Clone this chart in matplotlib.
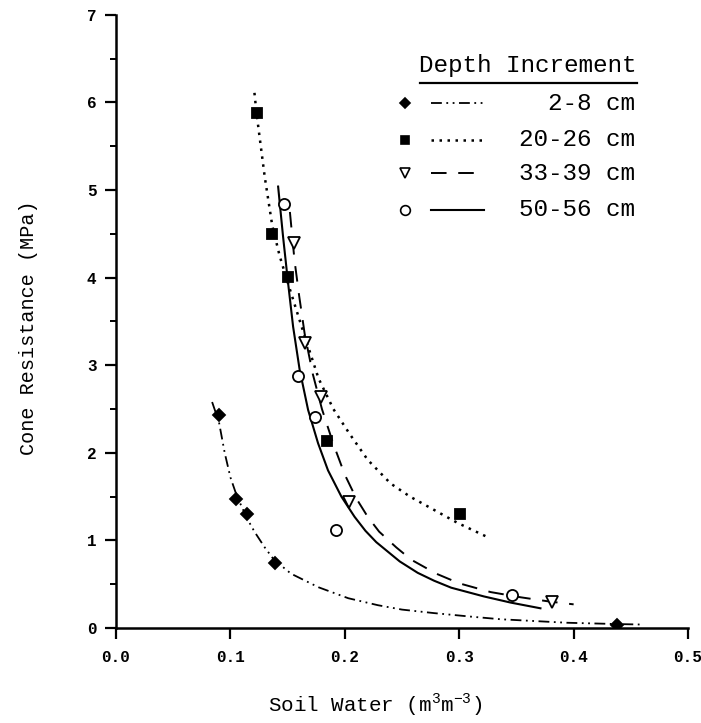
# Cone resistance vs soil water, four depth increments

import numpy as np
import matplotlib.pyplot as plt
from matplotlib.lines import Line2D

plt.rcParams['font.family'] = ['Liberation Mono', 'DejaVu Sans Mono']
plt.rcParams['mathtext.fontset'] = 'custom'
plt.rcParams['mathtext.rm'] = 'Liberation Mono'

###############
# Data points #
###############
labels = ["2-8 cm", "20-26 cm", "33-39 cm", "50-56 cm"]

x_2_8 = [0.090, 0.1045, 0.1147, 0.139, 0.438]
y_2_8 = [2.43, 1.47, 1.30, 0.74, 0.03]

x_20_26 = [0.1228, 0.1365, 0.150, 0.1847, 0.301]
y_20_26 = [5.88, 4.50, 4.01, 2.13, 1.30]

x_33_39 = [0.1557, 0.1655, 0.179, 0.204, 0.381]
y_33_39 = [4.39, 3.25, 2.64, 1.44, 0.30]

x_50_56 = [0.147, 0.159, 0.174, 0.1925, 0.346]
y_50_56 = [4.84, 2.88, 2.41, 1.12, 0.38]

# Fitted curves
fx_2_8 = [0.084, 0.090, 0.095, 0.100, 0.105, 0.110, 0.115, 0.121, 0.130, 0.138, 0.153, 0.177,
          0.203, 0.229, 0.250, 0.278, 0.310, 0.336, 0.365, 0.394, 0.438, 0.458]
fy_2_8 = [2.58, 2.35, 2.00, 1.72, 1.53, 1.38, 1.24, 1.10, 0.92, 0.78, 0.62, 0.465,
          0.34, 0.26, 0.21, 0.17, 0.13, 0.10, 0.08, 0.06, 0.045, 0.04]

fx_20_26 = [0.121, 0.1228, 0.130, 0.1365, 0.143, 0.150, 0.162, 0.177, 0.190, 0.204, 0.220,
            0.240, 0.257, 0.275, 0.2985, 0.326]
fy_20_26 = [6.11, 5.88, 5.15, 4.60, 4.25, 3.95, 3.45, 2.85, 2.50, 2.22, 1.92,
            1.65, 1.50, 1.37, 1.20, 1.03]

fx_33_39 = [0.152, 0.156, 0.160, 0.165, 0.172, 0.180, 0.190, 0.200, 0.210, 0.220, 0.230,
            0.245, 0.258, 0.280, 0.300, 0.3275, 0.354, 0.380, 0.400]
fy_33_39 = [4.75, 4.20, 3.80, 3.35, 2.90, 2.50, 2.10, 1.75, 1.48, 1.27, 1.10,
            0.92, 0.78, 0.62, 0.51, 0.41, 0.35, 0.30, 0.27]

fx_50_56 = [0.1417, 0.146, 0.1504, 0.1548, 0.1605, 0.1679, 0.1766, 0.1853, 0.197, 0.2085,
            0.218, 0.2275, 0.248, 0.2637, 0.278, 0.293, 0.3217, 0.345, 0.371]
fy_50_56 = [5.04, 4.47, 3.94, 3.44, 2.95, 2.49, 2.11, 1.80, 1.50, 1.27,
            1.11, 0.98, 0.76, 0.63, 0.54, 0.46, 0.36, 0.29, 0.225]

x_ticks = [0.0, 0.1, 0.2, 0.3, 0.4, 0.5]
y_ticks = [0, 1, 2, 3, 4, 5, 6, 7]

########
# Plot #
########
fig = plt.figure(figsize=(7.01, 7.23), dpi=100)
ax = fig.add_axes([0.1655, 0.1314, 0.816, 0.848])

dashdotdot = (0, (6, 2.5, 1, 2.5, 1, 2.5))
dotted = (0, (1, 2.2))
dashed = (0, (8, 6))

styles = [
    dict(ls=dashdotdot, lw=1.3, marker="D", ms=6, mfc="black"),
    dict(ls=dotted, lw=1.8, marker="s", ms=7, mfc="black"),
    dict(ls=dashed, lw=1.4, marker="v", ms=8, mfc="white"),
    dict(ls="-", lw=1.5, marker="o", ms=8, mfc="white"),
]

curves = [(fx_2_8, fy_2_8), (fx_20_26, fy_20_26), (fx_33_39, fy_33_39), (fx_50_56, fy_50_56)]
points = [(x_2_8, y_2_8), (x_20_26, y_20_26), (x_33_39, y_33_39), (x_50_56, y_50_56)]

for (fx, fy), (px, py), st in zip(curves, points, styles):
    ax.plot(fx, fy, color="black", linestyle=st["ls"], linewidth=st["lw"])
    ax.plot(px, py, linestyle="none", marker=st["marker"], markersize=st["ms"],
            markerfacecolor=st["mfc"], markeredgecolor="black", markeredgewidth=1.3)

ax.set_xlim(0, 0.5)
ax.set_ylim(0, 7)
ax.spines["top"].set_visible(False)
ax.spines["right"].set_visible(False)
for s in ["left", "bottom"]:
    ax.spines[s].set_linewidth(1.8)

ax.set_xticks(x_ticks)
ax.set_xticklabels(["%.1f" % v for v in x_ticks], fontweight="bold", fontsize=11.5)
ax.set_yticks(y_ticks)
ax.set_yticklabels([str(v) for v in y_ticks], fontweight="bold", fontsize=11.5)
ax.set_yticks(np.arange(0.5, 7, 1.0), minor=True)
ax.tick_params(axis="both", which="major", direction="out", length=8, width=1.6)
ax.tick_params(axis="x", pad=8)
ax.tick_params(axis="y", pad=6)
ax.tick_params(axis="y", which="minor", direction="out", length=4, width=1.4)

fig.text(0.040, 0.547, "Cone Resistance (MPa)", rotation=90, ha="center", va="center", fontsize=14.5)
fig.text(0.535, 0.025, "Soil Water (m$^{3}$m$^{-3}$)", ha="center", va="center", fontsize=15)

# Custom legend
ax.text(0.720, 0.918, "Depth Increment", transform=ax.transAxes, ha="center", va="center", fontsize=17.5)
ax.add_line(Line2D([0.531, 0.911], [0.889, 0.889], transform=ax.transAxes, color="black", lw=1.6))
row_y = [0.856, 0.796, 0.742, 0.682]
for lab, st, yy in zip(labels, styles, row_y):
    ax.add_line(Line2D([0.505], [yy], transform=ax.transAxes, linestyle="none", marker=st["marker"],
                       markersize=st["ms"] - 1, markerfacecolor=st["mfc"], markeredgecolor="black",
                       markeredgewidth=1.2))
    ax.add_line(Line2D([0.551, 0.643], [yy, yy], transform=ax.transAxes, color="black",
                       linestyle=st["ls"], linewidth=st["lw"]))
    ax.text(0.907, yy, lab, transform=ax.transAxes, ha="right", va="center", fontsize=17.5)

fig.savefig("out.png", dpi=100)
